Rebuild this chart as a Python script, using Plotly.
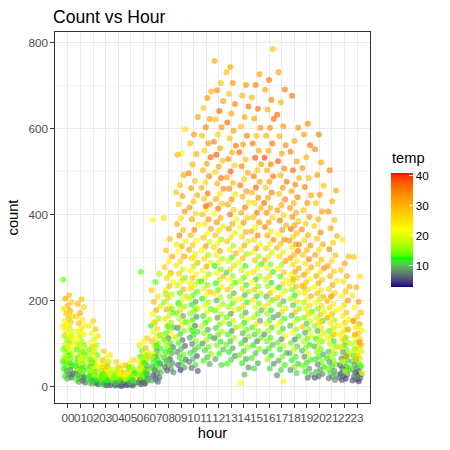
import plotly.graph_objects as go

# ---- data: count and temperature per hour ----
hour_labels = ["%02d" % h for h in range(24)]

c00 = [212,204,196,188,181,176,169,163,158,152,149,144,139,136,131,127,122,118,114,109,106,101,97,94,90,87,83,79,76,72,69,65,62,58,55,51,48,44,41,38,34,31,27,24,21,18,248,172,143,117,92,66,53,37,29]
t00 = [29,31,27,30,26,32,28,25,29,23,27,21,25,18,24,20,22,16,25,17,21,15,19,23,16,14,20,15,18,13,22,14,17,12,15,13,9,16,12,8,14,11,7,12,6,10,14,26,23,19,21,16,13,10,7]
c01 = [203,192,184,171,163,155,147,141,134,128,121,116,111,104,99,95,91,86,82,78,74,70,66,62,59,55,52,49,45,42,39,36,33,30,27,24,22,19,16,13,11,9,125,98,80,64,47,35,26,18]
t01 = [28,30,26,31,27,24,29,22,25,20,23,18,22,16,21,15,19,13,24,17,14,19,12,16,21,13,15,17,13,10,16,12,14,8,11,15,7,10,13,6,9,7,23,18,14,20,12,15,10,8]
c02 = [152,141,133,124,117,109,103,96,91,86,81,77,72,68,64,60,57,53,50,47,44,41,38,35,33,30,28,25,23,21,19,17,15,13,11,9,8,6,5,88,62,46,32,24,14]
t02 = [27,24,29,21,25,19,22,17,28,15,20,17,14,23,16,19,13,26,15,12,17,21,14,11,16,24,13,10,15,18,12,14,9,13,8,11,7,10,6,19,15,22,16,13,12]
c03 = [82,73,67,61,57,53,49,46,43,41,38,36,34,32,30,28,27,25,23,22,20,19,17,16,15,13,12,11,10,9,8,7,6,5,4,3,2,44,31,26,18,14]
t03 = [28,25,21,30,17,26,23,31,15,19,28,14,22,27,16,18,13,24,15,12,17,13,20,10,14,12,15,9,13,11,14,8,12,9,10,6,7,25,19,15,14,12]
c04 = [57,49,44,40,37,34,31,29,27,25,23,21,20,18,17,16,15,14,13,12,11,10,9,8,7,6,5,4,3,2,1,26,19,14,10,6,33,22]
t04 = [27,23,29,19,25,16,31,21,14,26,18,13,22,15,28,12,17,14,20,11,14,12,9,13,10,8,11,7,9,6,5,24,16,13,10,8,20,15]
c05 = [62,54,49,45,41,38,35,32,29,27,25,23,21,20,18,17,15,14,13,12,11,10,9,8,7,6,5,4,3,2,44,31,24,19,13,9,28,16]
t05 = [26,21,29,17,24,15,20,28,13,23,18,12,16,25,14,19,11,13,22,12,15,9,13,10,12,8,11,7,5,6,14,12,17,15,13,10,21,11]
c06 = [267,112,104,96,89,83,78,74,69,65,61,58,54,51,48,45,43,41,38,36,33,31,29,27,25,23,21,19,17,15,13,11,9,7,5,72,55,40,30,20,14,8]
t06 = [14,27,22,19,30,15,25,21,13,28,17,22,12,26,11,19,16,9,24,14,12,18,8,13,15,10,13,7,11,6,9,5,8,4,6,16,13,18,12,15,11,8]
c07 = [387,262,243,224,209,197,186,177,168,158,149,141,134,126,119,112,106,100,94,88,83,78,73,69,65,61,57,53,49,45,41,37,33,29,25,21,17,14,11,150,120,95,70,55,38]
t07 = [22,17,14,27,24,29,19,30,21,16,31,13,26,20,12,23,28,15,18,13,9,21,14,8,17,11,13,6,12,9,15,6,10,8,5,7,6,9,7,24,19,13,16,12,10]
c08 = [392,343,316,302,291,277,264,252,243,233,224,214,205,196,187,179,171,164,157,149,143,137,130,124,118,112,107,101,96,91,86,81,77,72,67,63,58,54,49,45,41,37,33,260,215,180,140,110,85,60]
t08 = [25,29,28,31,23,27,32,26,21,29,24,18,27,15,22,30,14,19,25,16,21,10,17,14,23,8,18,13,15,7,19,12,9,16,11,6,14,8,10,7,9,6,8,20,16,14,13,15,12,10]
c09 = [598,542,539,491,468,452,443,424,407,391,378,364,351,338,326,314,303,292,282,272,262,253,244,235,226,218,210,202,194,186,178,171,164,157,150,143,136,129,122,115,108,101,94,87,80,74,68,62,56,50,44,38,330,250,190]
t09 = [26,21,30,31,28,29,32,27,33,25,30,28,34,23,29,22,31,26,24,19,27,15,23,19,29,14,18,22,12,16,26,14,9,18,13,20,8,15,11,17,7,13,6,10,8,14,11,7,12,6,9,5,24,18,15]
c10 = [627,586,566,541,516,496,478,461,445,430,416,402,389,376,364,352,340,329,318,308,298,288,279,270,261,252,244,236,228,220,212,204,197,190,183,176,169,162,155,148,141,134,127,120,113,106,99,92,85,78,71,64,57,50,43,36,300,240,180,130]
t10 = [32,33,29,31,30,35,28,32,30,29,33,26,31,24,34,29,22,27,31,20,25,30,18,23,21,28,16,19,26,14,14,19,9,12,22,15,16,8,13,17,7,14,11,12,9,15,8,13,10,12,6,10,8,11,7,6,24,20,15,13]
c11 = [686,671,648,622,603,584,566,549,533,518,503,489,475,462,449,436,424,412,400,389,378,367,356,346,336,326,316,306,297,288,279,270,261,252,244,236,228,220,212,204,196,188,180,172,164,156,148,140,132,124,116,108,100,92,84,76,68,60,52,420]
t11 = [30,33,28,32,35,29,33,27,37,31,29,34,26,30,36,28,32,24,29,33,25,31,22,28,19,32,23,17,26,20,30,21,16,24,13,15,19,28,22,12,17,20,14,23,11,16,13,18,9,15,12,17,8,14,11,16,10,13,9,37]
c12 = [757,706,689,664,641,621,603,586,569,554,539,525,511,498,485,472,460,448,436,425,414,403,392,382,372,362,352,342,333,324,315,306,297,288,280,272,264,256,248,240,232,224,216,208,200,192,184,176,168,160,152,144,136,128,120,112,104,96,86,76,64,50]
t12 = [31,28,34,32,37,29,33,27,35,31,38,29,32,26,36,30,34,24,31,28,36,22,30,33,19,25,29,16,23,27,31,20,17,24,12,15,21,29,18,13,23,14,25,19,10,16,21,14,17,9,19,15,11,17,14,8,12,15,10,13,9,11]
c13 = [743,731,706,681,657,635,614,595,577,560,544,529,514,500,486,473,460,447,435,423,411,400,389,378,367,357,347,337,327,318,309,300,291,282,273,265,257,249,241,233,225,217,209,201,193,185,177,169,161,153,145,137,129,121,113,105,97,89,80,71,62,53]
t13 = [31,29,33,28,35,31,37,32,29,36,30,34,27,38,32,29,35,25,33,31,27,36,23,30,32,20,25,28,17,23,30,14,20,18,26,11,16,22,13,19,28,10,15,21,14,17,24,9,14,19,11,16,8,13,17,10,14,9,12,8,11,13]
c14 = [701,676,651,627,604,583,563,545,528,512,497,482,468,454,441,428,416,404,392,381,370,359,348,338,328,318,308,298,289,280,271,262,253,244,236,228,220,212,204,196,188,180,172,164,156,148,140,132,124,116,108,100,91,82,73,64,54,44,28,8]
t14 = [33,30,36,31,29,35,32,37,29,34,31,27,36,32,30,25,35,31,28,33,22,30,26,19,31,24,16,28,21,13,18,23,14,19,11,25,16,10,20,13,26,16,9,15,22,12,18,14,10,15,8,13,17,11,14,9,12,8,10,22]
c15 = [726,701,672,646,623,602,583,565,548,532,517,503,489,476,463,451,439,427,415,404,393,382,371,361,351,341,331,321,311,302,293,284,275,266,257,249,241,233,225,217,209,201,193,185,177,169,161,153,145,137,129,121,113,105,96,87,77,66,54,42]
t15 = [32,35,30,36,31,33,29,36,31,38,32,28,35,31,37,29,33,26,30,35,28,32,23,30,34,26,20,31,23,17,28,13,20,25,17,11,22,15,28,18,12,24,15,20,10,14,17,9,25,13,16,11,14,8,12,15,10,13,9,11]
c16 = [785,713,691,667,644,622,602,583,565,548,532,517,503,489,476,463,451,439,427,415,404,393,382,371,361,351,341,331,321,311,302,293,284,275,266,257,249,241,233,225,217,209,201,193,185,177,169,161,153,145,137,129,121,113,105,97,89,81,72,63,53,42]
t16 = [29,36,32,35,31,37,33,30,36,31,39,34,30,36,32,28,35,31,37,29,33,26,31,35,24,30,34,21,27,18,24,30,15,21,13,26,18,11,16,22,28,10,14,19,25,12,16,9,14,20,11,17,8,13,15,10,13,9,12,16,8,11]
c17 = [731,691,661,632,605,582,561,542,524,507,491,476,462,448,435,422,410,398,386,375,364,353,342,332,322,312,302,292,283,274,265,256,247,238,230,222,214,206,198,190,182,174,166,158,150,142,134,126,118,110,102,94,86,78,69,60,50,38,26,12]
t17 = [32,35,30,37,33,30,34,31,38,34,30,36,32,28,35,31,33,26,36,30,32,23,34,28,30,20,26,32,17,24,28,14,21,25,12,18,22,29,10,15,19,26,9,13,17,21,11,16,23,8,14,18,12,10,15,9,13,11,8,21]
c18 = [676,602,571,546,523,503,485,469,454,440,427,415,404,394,384,375,366,357,348,339,331,323,315,307,299,291,283,275,267,260,253,246,239,232,225,218,211,204,197,189,181,173,165,157,149,141,133,125,117,109,101,93,85,77,69,61,53,45,38,31,250,330]
t18 = [36,33,31,35,32,37,30,34,31,35,29,33,30,34,28,32,36,29,27,33,31,25,35,28,32,23,26,30,32,20,27,18,24,29,15,21,12,18,25,11,16,28,10,14,20,10,16,22,13,8,14,11,18,9,13,12,10,15,8,11,30,34]
c19 = [611,586,561,533,508,485,464,445,427,410,394,379,365,352,340,328,317,306,296,286,277,268,259,250,242,234,226,218,210,202,195,188,181,174,167,160,153,146,139,132,125,118,111,104,97,90,83,76,69,62,55,48,41,34,27,20,230,170]
t19 = [34,32,36,30,33,29,35,31,33,28,32,27,34,30,26,33,29,27,35,24,31,26,32,22,28,30,19,25,31,23,17,26,20,13,24,15,19,11,28,16,9,21,14,18,12,15,10,20,8,13,11,14,9,12,10,7,30,25]
c20 = [586,552,521,492,467,446,426,407,389,373,358,344,331,318,306,295,285,275,266,257,248,240,232,224,216,209,202,195,188,181,174,167,160,153,147,141,135,129,123,117,111,105,99,93,87,81,75,69,63,57,51,45,39,34,29,24,20,150]
t20 = [35,34,31,33,29,33,28,32,30,27,35,28,31,25,32,29,26,34,23,30,27,31,21,25,28,30,18,23,26,15,21,28,19,12,24,16,25,10,18,21,13,15,19,10,14,16,9,13,11,15,8,12,9,10,8,7,6,26]
c21 = [503,456,431,407,387,368,350,334,319,305,292,280,268,257,246,236,226,217,208,199,191,183,175,168,161,154,147,141,135,129,123,117,111,105,99,93,87,81,76,71,66,61,56,51,46,41,36,31,27,23,19,15,210,160,120]
t21 = [35,32,30,33,28,31,30,27,34,29,26,32,27,30,24,31,26,28,22,30,24,26,20,28,22,17,24,19,26,14,22,17,24,12,18,15,21,10,15,19,12,16,9,14,11,15,8,12,10,9,7,8,33,30,27]
c22 = [341,302,286,271,257,244,232,221,210,200,190,181,172,164,156,148,141,134,127,120,114,108,102,96,90,85,80,75,70,65,60,55,50,46,42,38,34,30,27,24,21,18,15,132,110,92,71,58,44,35]
t22 = [24,29,32,27,31,25,30,28,23,33,26,22,29,24,20,27,22,17,25,20,14,23,18,12,21,15,9,17,13,8,11,14,7,10,6,9,12,5,8,6,7,5,6,31,28,26,34,19,13,16]
c23 = [301,256,231,212,197,184,172,162,153,145,137,130,123,116,110,104,98,92,87,82,77,72,67,62,58,54,50,46,42,38,35,32,29,26,23,20,17,14,12,121,96,71,152,103,63,31,140,85,48,22]
t23 = [28,26,30,25,32,23,29,27,22,31,24,20,28,22,26,17,20,25,15,18,23,13,17,15,11,14,9,12,8,10,7,6,9,5,7,6,5,6,5,31,29,27,34,33,30,21,24,18,14,9]

counts_by_hour = [c00,c01,c02,c03,c04,c05,c06,c07,c08,c09,c10,c11,c12,c13,c14,c15,c16,c17,c18,c19,c20,c21,c22,c23]
temps_by_hour = [t00,t01,t02,t03,t04,t05,t06,t07,t08,t09,t10,t11,t12,t13,t14,t15,t16,t17,t18,t19,t20,t21,t22,t23]

# ---- deterministic jitter (golden-ratio sequence), width 0.4 like geom_jitter ----
xs, ys, cs = [], [], []
n = 0
for h, (cl, tl) in enumerate(zip(counts_by_hour, temps_by_hour)):
    for c, t in zip(cl, tl):
        n += 1
        off = ((n * 0.6180339887) % 1.0 - 0.5) * 0.8
        xs.append(h + off)
        ys.append(c)
        cs.append(t)

# ---- colour scale: darkblue-green-yellow-orange-red interpolated in Lab ----
def srgb_to_lab(rgb):
    def lin(c):
        c = c / 255.0
        return c / 12.92 if c <= 0.04045 else ((c + 0.055) / 1.055) ** 2.4
    r, g, b = [lin(v) for v in rgb]
    X = r * 0.4124 + g * 0.3576 + b * 0.1805
    Y = r * 0.2126 + g * 0.7152 + b * 0.0722
    Z = r * 0.0193 + g * 0.1192 + b * 0.9505
    Xn, Yn, Zn = 0.95047, 1.0, 1.08883
    def f(t):
        return t ** (1 / 3) if t > 0.008856 else 7.787 * t + 16 / 116
    fx, fy, fz = f(X / Xn), f(Y / Yn), f(Z / Zn)
    return (116 * fy - 16, 500 * (fx - fy), 200 * (fy - fz))

def lab_to_srgb(lab):
    L, a, b = lab
    fy = (L + 16) / 116
    fx = fy + a / 500
    fz = fy - b / 200
    def finv(t):
        return t ** 3 if t ** 3 > 0.008856 else (t - 16 / 116) / 7.787
    Xn, Yn, Zn = 0.95047, 1.0, 1.08883
    X, Y, Z = Xn * finv(fx), Yn * finv(fy), Zn * finv(fz)
    r = X * 3.2406 + Y * -1.5372 + Z * -0.4986
    g = X * -0.9689 + Y * 1.8758 + Z * 0.0415
    bb = X * 0.0557 + Y * -0.2040 + Z * 1.0570
    def gam(c):
        c = max(0.0, min(1.0, c))
        v = 12.92 * c if c <= 0.0031308 else 1.055 * c ** (1 / 2.4) - 0.055
        return int(round(max(0, min(1, v)) * 255))
    return "rgb(%d,%d,%d)" % (gam(r), gam(g), gam(bb))

stops = [(0, 0, 139), (0, 255, 0), (255, 255, 0), (255, 165, 0), (255, 0, 0)]
labs = [srgb_to_lab(s) for s in stops]
colorscale = []
N = 60
for i in range(N + 1):
    p = i / N
    seg = min(int(p * 4), 3)
    f = p * 4 - seg
    a, b = labs[seg], labs[seg + 1]
    lab = tuple(a[k] + (b[k] - a[k]) * f for k in range(3))
    colorscale.append([p, lab_to_srgb(lab)])

FONT = "Liberation Sans, Arial, sans-serif"

fig = go.Figure()
fig.add_trace(go.Scatter(
    x=xs, y=ys, mode="markers",
    marker=dict(
        size=6, color=cs, colorscale=colorscale, cmin=2.9, cmax=41,
        opacity=0.66, line=dict(width=0),
        colorbar=dict(
            tickvals=[10, 20, 30, 40], ticks="inside", ticklen=4, tickcolor="white",
            tickfont=dict(size=11.7, color="black", family=FONT),
            thickness=22, thicknessmode="pixels",
            len=114, lenmode="pixels",
            xref="paper", x=(391 - 53) / 317, xanchor="left", xpad=0,
            yref="paper", y=(405 - 231) / 373, yanchor="middle", ypad=0,
            outlinewidth=0,
        ),
    ),
    showlegend=False, hoverinfo="skip",
))

axis_common = dict(
    showline=True, mirror=True, linecolor="#333333", linewidth=1,
    ticks="outside", ticklen=3.7, tickcolor="#333333", tickwidth=1,
    gridcolor="#EBEBEB", gridwidth=1, zeroline=False,
    tickfont=dict(size=11.7, color="#4D4D4D", family=FONT),
)

fig.update_layout(
    width=450, height=450,
    paper_bgcolor="white", plot_bgcolor="white",
    margin=dict(l=53, r=80, t=32, b=45),
    font=dict(family=FONT),
    title=dict(text="Count vs Hour", x=53 / 450, xref="container", xanchor="left",
               y=1 - 17 / 450, yref="container", yanchor="middle",
               font=dict(size=17.6, color="black", family=FONT)),
    xaxis=dict(axis_common, range=[-1.03, 24.03], tickmode="array",
               tickvals=list(range(24)), ticktext=hour_labels, tickangle=0,
               title=dict(text="hour", font=dict(size=14.67, color="black", family=FONT), standoff=4)),
    yaxis=dict(axis_common, range=[-38.5, 824.5], tickmode="array",
               tickvals=[0, 200, 400, 600, 800],
               minor=dict(tickvals=[100, 300, 500, 700], showgrid=True, gridcolor="#F2F2F2", gridwidth=0.6, ticks=""),
               title=dict(text="count", font=dict(size=14.67, color="black", family=FONT), standoff=6)),
    annotations=[dict(text="temp", xref="paper", yref="paper",
                      x=(391 - 53) / 317, y=(405 - 159) / 373, xanchor="left", yanchor="middle",
                      showarrow=False, borderpad=0,
                      font=dict(size=14.67, color="black", family=FONT))],
)

fig.write_html("out.html", config={"displayModeBar": False},
               post_script="document.body.style.margin='0';")
